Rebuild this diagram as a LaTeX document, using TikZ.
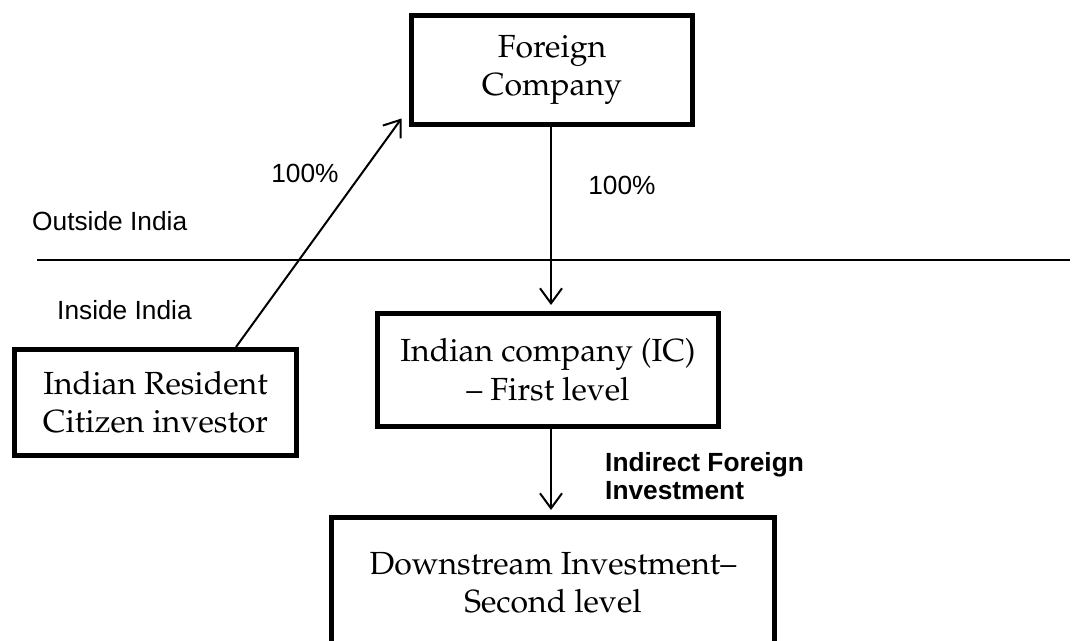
\documentclass[tikz,border=0pt]{standalone}
\usepackage[T1]{fontenc}
\usepackage{fontspec}
\newfontfamily\arialfont{Liberation Sans}
\newcommand{\pplfont}{\fontencoding{T1}\fontfamily{ppl}\selectfont}
\usetikzlibrary{arrows.meta,positioning}

\begin{document}
\begin{tikzpicture}[x=1pt,y=-1pt,
		box/.style={draw, line width=5pt, align=center, inner sep=0pt,
			font=\pplfont\fontsize{32}{38.5}\selectfont},
		lbl/.style={inner sep=0pt, font=\arialfont\fontsize{26.3}{28}\selectfont},
		lblb/.style={inner sep=0pt, align=left, font=\arialfont\bfseries\fontsize{26.3}{28}\selectfont},
		arr/.style={line width=2pt, -{Straight Barb[length=15pt,width=22pt]}}]
	\useasboundingbox (0,0) rectangle (1076,640);
	% boxes
	\node[box, minimum width=281pt, minimum height=109pt] (foreign) at (552,70) {Foreign\\Company};
	\node[box, minimum width=341pt, minimum height=113pt] (ic) at (548,370) {Indian company (IC)\\-- First level};
	\node[box, minimum width=282pt, minimum height=106pt] (resident) at (155.5,402.5) {Indian Resident\\Citizen investor};
	\node[box, minimum width=443pt, minimum height=130pt] (down) at (553,582.5) {Downstream Investment--\\Second level};
	% labels
	\node[lbl] (pctres) at (305,173) {100\%};
	\node[lbl] (pctfor) at (622,185) {100\%};
	\node[lbl, anchor=west] (outside) at (32,221) {Outside India};
	\node[lbl, anchor=west] (inside) at (57,310) {Inside India};
	\node[lblb, anchor=west] (ifi) at (605,476) {Indirect Foreign\\Investment};
	% border line
	\coordinate (divL) at (37,260);
	\coordinate (divR) at (1070,260);
	\draw[line width=1.5pt] (divL) -- (divR);
	% arrows
	\draw[arr] ([xshift=80.5pt]resident.north) -- ([xshift=-7.5pt,yshift=8.5pt]foreign.south west);
	\draw[arr, shorten >=6pt] ([xshift=-1pt]foreign.south) -- ([xshift=-1pt]foreign.south |- ic.north);
	\draw[arr, shorten >=5pt] ([xshift=3pt]ic.south) -- ([xshift=3pt]ic.south |- down.north);
\end{tikzpicture}
\end{document}
